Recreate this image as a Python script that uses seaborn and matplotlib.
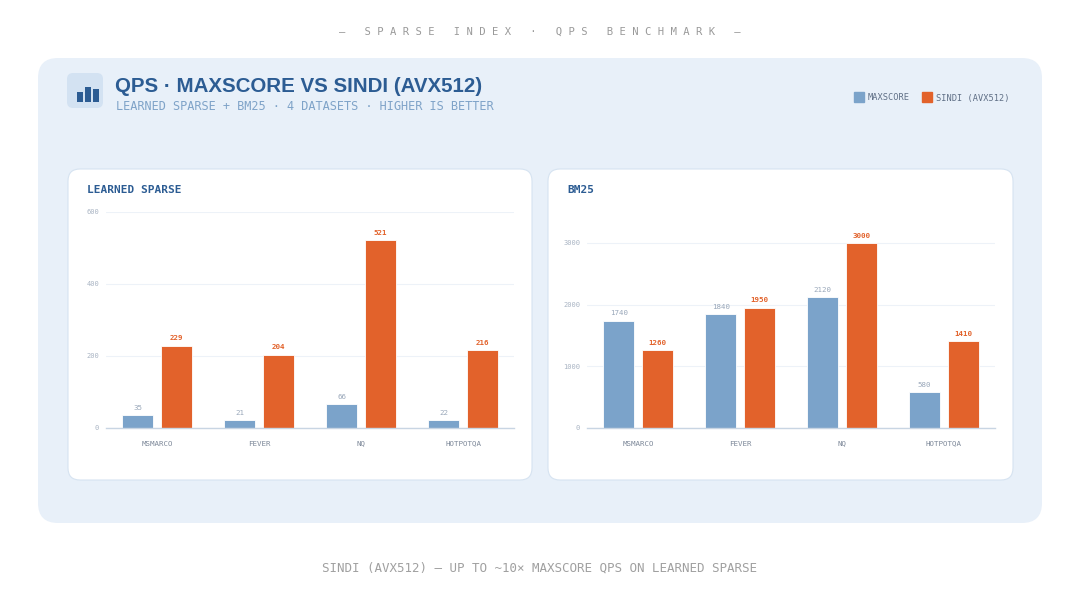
import matplotlib
matplotlib.use("Agg")
import matplotlib.pyplot as plt
from matplotlib.patches import FancyBboxPatch, Rectangle
from matplotlib.lines import Line2D
import seaborn as sns
import pandas as pd


#------------------------------------------------------------------------------
#               Data
#------------------------------------------------------------------------------
datasets = ["MSMARCO", "FEVER", "NQ", "HOTPOTQA"]
methods = ["MAXSCORE", "SINDI (AVX512)"]
learned_maxscore = [35, 21, 66, 22]
learned_sindi = [229, 204, 521, 216]
bm25_maxscore = [1740, 1840, 2120, 580]
bm25_sindi = [1260, 1950, 3000, 1410]
learned_ticks = [0, 200, 400, 600]
bm25_ticks = [0, 1000, 2000, 3000]

BLUE = "#7BA3CA"
ORANGE = "#E2622B"
NAVY = "#2C5C93"
MONO = "DejaVu Sans Mono"


def long_frame(maxscore, sindi):
    rows = []
    for d, a, b in zip(datasets, maxscore, sindi):
        rows.append({"dataset": d, "method": methods[0], "qps": a})
        rows.append({"dataset": d, "method": methods[1], "qps": b})
    return pd.DataFrame(rows)


sns.set_theme(style="white")
plt.rcParams["font.family"] = ["DejaVu Sans"]

fig = plt.figure(figsize=(10.8, 6.08), dpi=100)
fig.patch.set_facecolor("white")

# background layer in pixel coordinates (y from top)
bg = fig.add_axes([0, 0, 1, 1], zorder=0)
bg.set_xlim(0, 1080)
bg.set_ylim(608, 0)
bg.axis("off")


def card(x0, y0, x1, y1, r, face, edge="none", lw=0):
    bg.add_patch(FancyBboxPatch((x0 + r, y0 + r), (x1 - x0) - 2 * r, (y1 - y0) - 2 * r,
                                boxstyle="round,pad=%g" % r, facecolor=face,
                                edgecolor=edge, linewidth=lw))


card(38, 58, 1042, 523, 20, "#E8F0F9")
card(68, 169, 532, 480, 12, "white", "#D6E3F1", 0.8)
card(548, 169, 1013, 480, 12, "white", "#D6E3F1", 0.8)

# icon
card(67, 73, 103, 108, 6, "#D3E2F2")
for x0, top in [(77, 92), (85, 87), (93, 89)]:
    bg.add_patch(Rectangle((x0, top), 6, 102 - top, facecolor=NAVY, edgecolor="none"))

# header / footer / title texts
bg.text(540, 32, " ".join("— SPARSE INDEX · QPS BENCHMARK —"), ha="center", va="center",
        family=MONO, fontsize=7.6, color="#9A9A9A")
bg.text(540, 568, "SINDI (AVX512) — UP TO ~10× MAXSCORE QPS ON LEARNED SPARSE",
        ha="center", va="center", family=MONO, fontsize=9.0, color="#A0A0A0")
bg.text(115, 86, "QPS · MAXSCORE VS SINDI (AVX512)", ha="left", va="center",
        family="Liberation Sans", fontweight="bold", fontsize=14.8, color=NAVY)
bg.text(116, 107, "LEARNED SPARSE + BM25 · 4 DATASETS · HIGHER IS BETTER", ha="left",
        va="center", family=MONO, fontsize=8.6, color="#7FA3C8")

# legend
handles = [Line2D([], [], marker="s", linestyle="none", markersize=7,
                  markerfacecolor=c, markeredgecolor=c) for c in (BLUE, ORANGE)]
leg = fig.legend(handles, methods, loc="center right", bbox_to_anchor=(1017 / 1080, 1 - 98 / 608),
                 ncol=2, frameon=False, handletextpad=0.5, columnspacing=1.5,
                 handlelength=1.0, prop={"family": MONO, "size": 6.2})
for t in leg.get_texts():
    t.set_color("#5F6F86")


#------------------------------------------------------------------------------
#               Panels
#------------------------------------------------------------------------------
def panel(left, maxscore, sindi, ymax, ticks, title, title_x):
    ax = fig.add_axes([left / 1080, 1 - 428 / 608, 408 / 1080, 216 / 608], zorder=2)
    ax.set_facecolor("none")
    df = long_frame(maxscore, sindi)
    sns.barplot(data=df, x="dataset", y="qps", hue="method", hue_order=methods,
                palette=[BLUE, ORANGE], width=0.76, gap=0.2, ax=ax, legend=False,
                edgecolor="white", linewidth=0.6, saturation=1)
    ax.set_ylim(0, ymax)
    ax.set_yticks(ticks)
    ax.set_xlabel("")
    ax.set_ylabel("")
    ax.yaxis.grid(True, color="#EDF2F8", linewidth=0.8)
    ax.set_axisbelow(True)
    for s in ["top", "right", "left"]:
        ax.spines[s].set_visible(False)
    ax.spines["bottom"].set_color("#C8D5E3")
    ax.spines["bottom"].set_linewidth(1.0)
    ax.tick_params(axis="both", length=0)
    ax.tick_params(axis="y", pad=5, labelsize=5, labelcolor="#A9B4C3")
    ax.tick_params(axis="x", pad=9, labelsize=5.4, labelcolor="#7D8899")
    for lab in ax.get_xticklabels() + ax.get_yticklabels():
        lab.set_family(MONO)
    ax.bar_label(ax.containers[0], fmt="%d", padding=3, fontsize=5.4,
                 color="#9AA8BA", family=MONO)
    ax.bar_label(ax.containers[1], fmt="%d", padding=3, fontsize=5.4,
                 color=ORANGE, family=MONO, fontweight="bold")
    bg.text(title_x, 190, title, ha="left", va="center", family=MONO,
            fontweight="bold", fontsize=8, color=NAVY)
    return ax


panel(106, learned_maxscore, learned_sindi, 600, learned_ticks, "LEARNED SPARSE", 87)
panel(587, bm25_maxscore, bm25_sindi, 3500, bm25_ticks, "BM25", 567)

fig.savefig("out.png", dpi=100, facecolor="white")
